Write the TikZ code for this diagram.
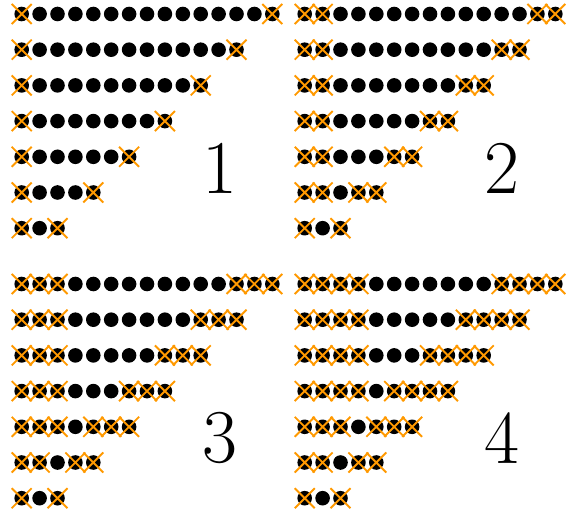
\documentclass[tikz,border=0pt]{standalone}
\definecolor{xorange}{RGB}{255,153,0}
\tikzset{
  dotmark/.style={fill=black},
  xmark/.style={draw=xorange, line width=1.9pt},
  num/.style={font=\fontsize{76}{76}\selectfont, inner sep=0pt}
}
\begin{document}
\begin{tikzpicture}[x=1pt,y=-1pt]
\useasboundingbox (0,0) rectangle (572,510);
\foreach \k/\ox/\oy in {1/0/0,2/283/0,3/0/270,4/283/270}{
  \foreach \r in {0,...,6}{
    \pgfmathtruncatemacro\n{15-2*\r}
    \pgfmathtruncatemacro\m{min(\k,(\n-1)/2)}
    \pgfmathtruncatemacro\hi{\n-\m}
    \foreach \i in {1,...,\n}{
      \pgfmathsetmacro\px{\ox+21.7+17.9*(\i-1)}
      \pgfmathsetmacro\py{\oy+14+35.7*\r}
      \fill[dotmark] (\px,\py) circle (7.3pt);
      \ifnum\i>\m
        \ifnum\i>\hi \def\c{1}\else\def\c{0}\fi
      \else
        \def\c{1}
      \fi
      \ifnum\c=1
        \draw[xmark] (\px-10,\py-10) -- (\px+10,\py+10)
                     (\px-10,\py+10) -- (\px+10,\py-10);
      \fi
    }
  }
}
\node[num] (n1) at (220,168) {1};
\node[num] (n2) at (502,168) {2};
\node[num] (n3) at (220,438) {3};
\node[num] (n4) at (502,438) {4};
\end{tikzpicture}
\end{document}
